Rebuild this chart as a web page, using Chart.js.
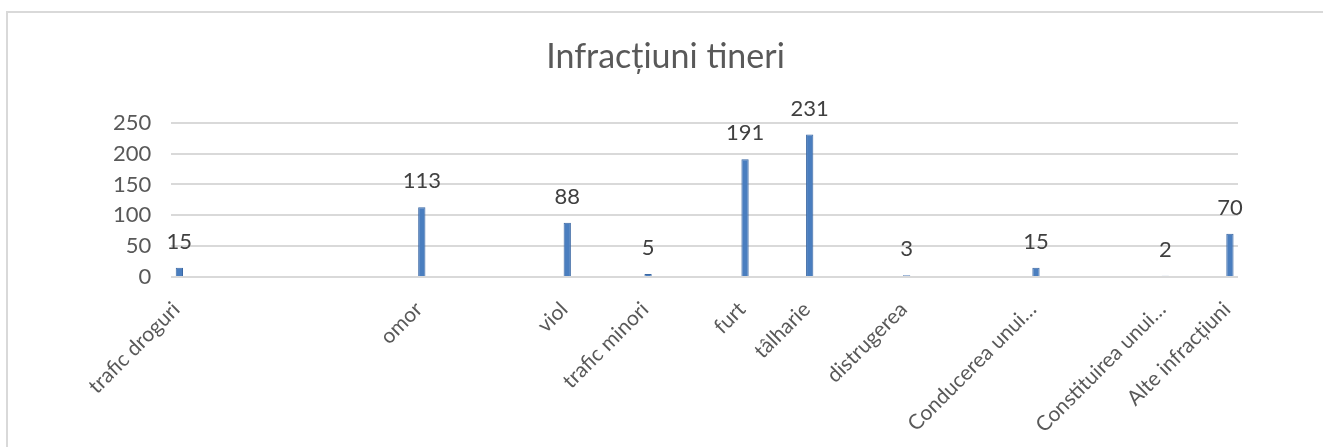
<!DOCTYPE html>
<html>
<head>
<meta charset="utf-8">
<script src="https://cdn.jsdelivr.net/npm/chart.js@4.4.0/dist/chart.umd.min.js"></script>
<style>
html,body{margin:0;padding:0;background:#fff;}
#wrap{position:absolute;left:6px;top:11px;width:1317px;height:436px;border-top:2px solid #d9d9d9;border-left:2px solid #d9d9d9;box-sizing:border-box;}
#holder{position:absolute;left:0;top:0;width:1323px;height:447px;}
</style>
</head>
<body>
<div id="wrap"></div>
<div id="holder"><canvas id="infGraph"></canvas></div>
<script>
var titleText="Infracțiuni tineri";
var categories=["trafic droguri","omor","viol","trafic minori","furt","tâlharie","distrugerea","Conducerea unui…","Constituirea unui…","Alte infracțiuni"];
var values=[15,113,88,5,191,231,3,15,2,70];
// empty rows in the source sheet before each category
var emptyRowsBefore=[0,14,8,4,5,3,5,7,7,3];
var yTicks=[0,50,100,150,200,250];

var labelArray=[];
var dataArray=[];
function each(arr,fn){
	for(var i=0;i<arr.length;i++){fn(i,arr[i]);}
}
each(categories,function(i,cat){
	for(var k=0;k<emptyRowsBefore[i];k++){
		labelArray.push("");
		dataArray.push(null);
	}
	labelArray.push(cat);
	dataArray.push(values[i]);
});

var valueLabels={
	id:"valueLabels",
	afterDatasetsDraw:function(chart){
		var ctx=chart.ctx;
		var meta=chart.getDatasetMeta(0);
		ctx.save();
		ctx.font="22px Lato";
		ctx.fillStyle="#404040";
		ctx.textAlign="center";
		ctx.textBaseline="alphabetic";
		each(meta.data,function(i,bar){
			var v=dataArray[i];
			if(v===null)return;
			ctx.fillText(String(v),bar.x,bar.y-19);
		});
		ctx.restore();
	}
};

function drawGraphics(){
	var ctx=document.getElementById("infGraph").getContext("2d");
	var chartData={
		labels:labelArray,
		datasets:[{
			label:"Infracțiuni",
			data:dataArray,
			backgroundColor:"#4a7ebf",
			borderColor:"#3a67a3",
			borderWidth:1,
			barPercentage:0.45,
			categoryPercentage:1
		}]
	};
	new Chart(ctx,{
		type:"bar",
		data:chartData,
		plugins:[valueLabels],
		options:{
			responsive:true,
			maintainAspectRatio:false,
			animation:false,
			layout:{padding:{left:93,right:85,top:37,bottom:0}},
			plugins:{
				legend:{display:false},
				tooltip:{enabled:false},
				title:{
					display:true,
					text:titleText,
					color:"#595959",
					font:{family:"Lato",size:34,weight:"normal"},
					padding:{top:0,bottom:45}
				}
			},
			scales:{
				x:{
					grid:{display:false,drawTicks:false},
					border:{display:false},
					afterFit:function(axis){axis.height=170;},
					ticks:{
						autoSkip:false,
						maxRotation:45,
						minRotation:45,
						padding:20,
						labelOffset:-3,
						color:"#595959",
						font:{family:"Lato",size:21}
					}
				},
				y:{
					min:0,
					max:250,
					afterBuildTicks:function(axis){axis.ticks=yTicks.map(function(v){return {value:v};});},
					grid:{color:"#d9d9d9",lineWidth:2,drawTicks:false},
					border:{display:false},
					ticks:{
						autoSkip:false,
						padding:20,
						color:"#595959",
						font:{family:"Lato",size:22}
					}
				}
			}
		}
	});
}
drawGraphics();
</script>
</body>
</html>
